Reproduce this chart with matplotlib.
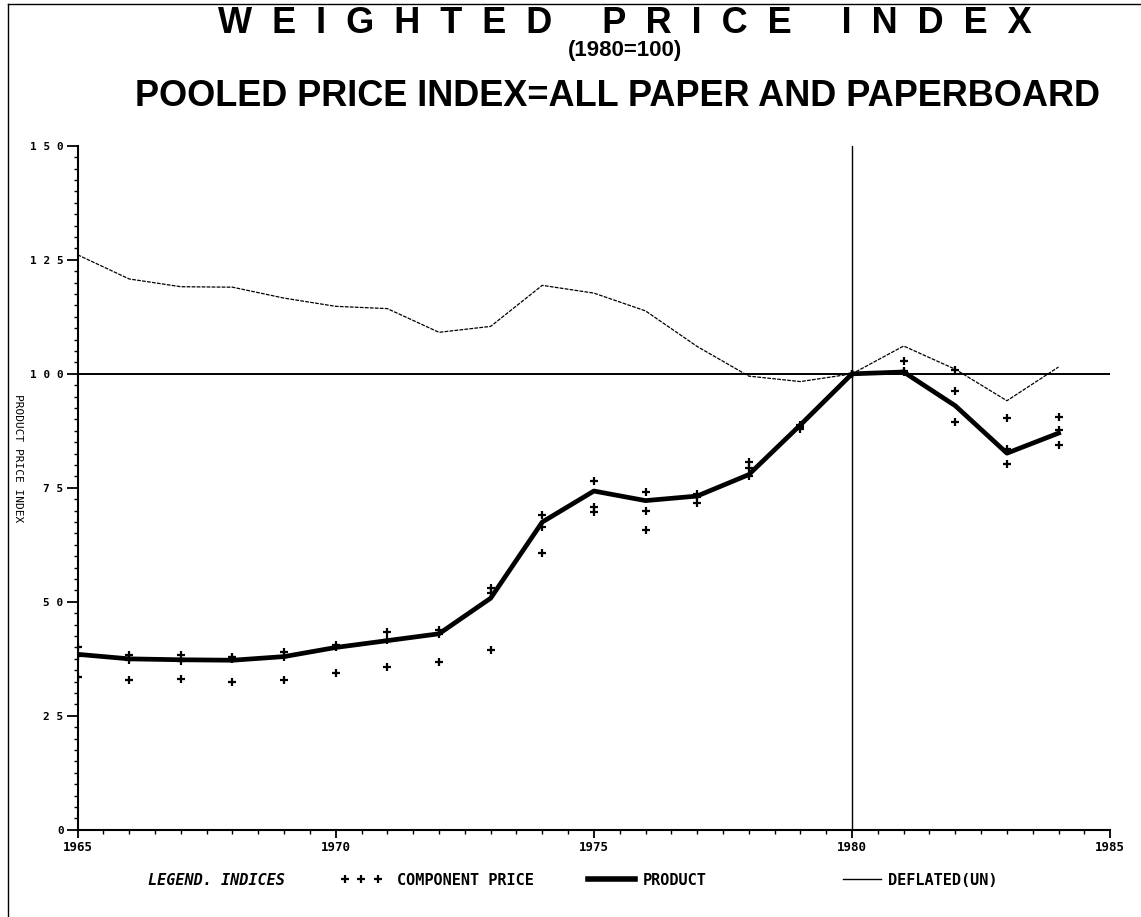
import numpy as np
import matplotlib
matplotlib.use('Agg')
import matplotlib.pyplot as plt
from matplotlib.lines import Line2D
from matplotlib.ticker import MultipleLocator, FuncFormatter


years = list(range(1965, 1985))

# product (pooled) price index, thick line
product = [38.5, 37.5, 37.3, 37.2, 38.0, 40.0, 41.5, 43.0, 50.8, 67.5,
           74.3, 72.2, 73.2, 77.9, 88.8, 100.0, 100.4, 93.0, 82.6, 87.0]

# deflated index, thin line
deflated = [126.1, 120.8, 119.1, 119.0, 116.6, 114.8, 114.3, 109.1, 110.4, 119.4,
            117.7, 113.8, 106.0, 99.5, 98.3, 100.0, 106.1, 101.0, 94.1, 101.5]

# component prices, three components per year
comp_hi = [40.0, 38.4, 38.4, 37.9, 39.0, 40.6, 43.5, 43.9, 53.0, 69.1,
           76.6, 74.0, 73.6, 80.6, 88.8, 100.0, 102.9, 100.9, 90.3, 90.5]
comp_mid = [38.2, 37.3, 37.1, 37.5, 38.0, 40.0, 41.7, 43.0, 51.9, 66.5,
            70.9, 70.0, 73.0, 79.3, 88.3, 100.0, 100.6, 96.3, 83.5, 87.7]
comp_lo = [33.6, 32.9, 33.0, 32.4, 32.9, 34.4, 35.8, 36.9, 39.5, 60.8,
           69.8, 65.8, 71.6, 77.5, 88.0, 100.0, 100.4, 89.4, 80.2, 84.3]

base_year = 1980
base_value = 100


fig = plt.figure(figsize=(11.41, 9.17), dpi=100)
ax = fig.add_axes([0.068, 0.095, 0.905, 0.746])

mono = 'DejaVu Sans Mono'

for comp in (comp_hi, comp_mid, comp_lo):
    ax.plot(years, comp, linestyle='none', marker='+', color='black',
            markersize=6, markeredgewidth=1.6)
ax.plot(years, product, color='black', lw=3.4, solid_joinstyle='round')
ax.plot(years, deflated, color='black', lw=0.9, linestyle=(0, (3, 1)))

ax.axhline(base_value, color='black', lw=1.4)
ax.axvline(base_year, color='black', lw=1.0)

ax.set_xlim(1965, 1985)
ax.set_ylim(0, 150)
ax.spines['top'].set_visible(False)
ax.spines['right'].set_visible(False)
ax.spines['left'].set_linewidth(1.5)
ax.spines['bottom'].set_linewidth(1.5)

ax.xaxis.set_major_locator(MultipleLocator(5))
ax.xaxis.set_minor_locator(MultipleLocator(0.5))
ax.yaxis.set_major_locator(MultipleLocator(25))
ax.yaxis.set_minor_locator(MultipleLocator(2.5))
ax.yaxis.set_major_formatter(FuncFormatter(lambda v, p: ' '.join(str(int(v)))))
ax.tick_params(axis='y', which='major', length=8, width=1.3,
               labelsize=8, pad=2)
ax.tick_params(axis='x', which='major', length=6, width=1.3,
               labelsize=9, pad=2)
ax.tick_params(axis='both', which='minor', length=3, width=1.0)
for lab in ax.get_xticklabels() + ax.get_yticklabels():
    lab.set_family(mono)
    lab.set_fontweight('bold')

fig.text(0.016, 0.50, 'PRODUCT PRICE INDEX', rotation=-90, family=mono,
         fontsize=8, ha='center', va='center')

# titles
fig.text(0.548, 0.9745, 'W  E  I  G  H  T  E  D     P  R  I  C  E     I  N  D  E  X',
         family='Liberation Sans', fontweight='bold', fontsize=26,
         ha='center', va='center')
fig.text(0.548, 0.945, '(1980=100)', family='Liberation Sans',
         fontweight='bold', fontsize=16, ha='center', va='center')
fig.text(0.541, 0.895, 'POOLED PRICE INDEX=ALL PAPER AND PAPERBOARD',
         family='Liberation Sans', fontweight='bold', fontsize=26,
         ha='center', va='center')

# legend
leg_font = {'family': mono, 'size': 11, 'weight': 'bold'}
leg_y = 0.040
fig.text(0.130, leg_y, 'LEGEND. INDICES', family=mono, fontsize=11,
         fontweight='bold', style='italic', va='center')

entries = [
    (Line2D([], [], linestyle='none', marker='+', color='black',
            markersize=6, markeredgewidth=1.6),
     'COMPONENT PRICE', 340, 2.8, 0.9),
    (Line2D([], [], color='black', lw=4.0), 'PRODUCT', 583, 3.7, 0.2),
    (Line2D([], [], color='black', lw=1.0), 'DEFLATED(UN)', 838, 3.1, 0.2),
]
for handle, label, x0, hlen, tpad in entries:
    leg = fig.legend([handle], [label], loc='center left',
                     bbox_to_anchor=(x0 / 1141, leg_y), frameon=False,
                     numpoints=3, handlelength=hlen, handletextpad=tpad,
                     borderpad=0, borderaxespad=0, prop=leg_font)

# outer frame (left and top edges only)
fig.add_artist(Line2D([0.007, 0.007], [0.0, 0.996], transform=fig.transFigure,
                      color='black', lw=1.0))
fig.add_artist(Line2D([0.007, 1.0], [0.996, 0.996], transform=fig.transFigure,
                      color='black', lw=1.0))

fig.savefig('out.png', dpi=100)
plt.close()
